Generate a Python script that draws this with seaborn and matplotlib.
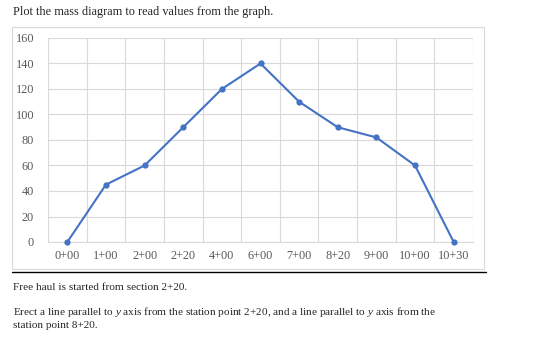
import numpy as np
import pandas as pd
import matplotlib
matplotlib.use("Agg")
import matplotlib.pyplot as plt
import seaborn as sns
from matplotlib.patches import Rectangle
from matplotlib.lines import Line2D


# Mass diagram data (station vs. ordinate)
stations = ['0+00', '1+00', '2+00', '2+20', '4+00', '6+00', '7+00', '8+20', '9+00', '10+00', '10+30']
ordinates = [0, 45, 60, 90, 120, 140, 110, 90, 82, 60, 0]
y_ticks = [0, 20, 40, 60, 80, 100, 120, 140, 160]

df = pd.DataFrame({'station': stations, 'ordinate': ordinates})

sns.set_style("white")
plt.rcParams['font.family'] = ['Liberation Serif', 'DejaVu Serif']
plt.rcParams['mathtext.fontset'] = 'custom'
plt.rcParams['mathtext.rm'] = 'Liberation Serif'
plt.rcParams['mathtext.it'] = 'Liberation Serif:italic'

W, H = 560, 339
fig = plt.figure(figsize=(W / 100, H / 100), dpi=100)

# axes placement in pixels
left, right, top, bottom = 48, 473, 38, 242
ax = fig.add_axes([left / W, 1 - bottom / H, (right - left) / W, (bottom - top) / H])

sns.lineplot(data=df, x='station', y='ordinate', ax=ax, color='#4472C4',
             linewidth=1.5, marker='o', markersize=4.5, markeredgewidth=0, sort=False)
for ln in ax.lines:
    ln.set_clip_on(False)
    ln.set_zorder(5)

ax.set_xlim(-0.5, len(stations) - 0.5)
ax.set_ylim(0, 160)
ax.set_yticks(y_ticks)
ax.set_xticks(range(len(stations)))
ax.set_xticklabels(stations)
ax.set_xticks(np.arange(-0.5, len(stations), 1), minor=True)
ax.grid(True, which='minor', axis='x', color='#d9d9d9', linewidth=0.8)
ax.grid(True, which='major', axis='y', color='#d9d9d9', linewidth=0.8)
ax.set_axisbelow(True)
ax.tick_params(axis='both', which='both', length=0, labelsize=8.8, labelcolor='#595959')
ax.tick_params(axis='x', pad=6)
ax.tick_params(axis='y', pad=10)
ax.set_xlabel('')
ax.set_ylabel('')
for s in ax.spines.values():
    s.set_visible(False)
ax.spines['bottom'].set_visible(True)
ax.spines['bottom'].set_color('#d9d9d9')
ax.spines['bottom'].set_linewidth(0.8)

# outer chart box
fig.patches.append(Rectangle((12 / W, 1 - 269 / H), (484 - 12) / W, (269 - 27) / H,
                             transform=fig.transFigure, fill=False,
                             edgecolor='#d9d9d9', linewidth=0.8))
# rule under the chart
fig.lines.append(Line2D([12 / W, 486 / W], [1 - 272 / H, 1 - 272 / H],
                        transform=fig.transFigure, color='black', linewidth=1))

fig.text(13 / W, 1 - 12 / H, 'Plot the mass diagram to read values from the graph.',
         fontsize=8.8, va='center', ha='left')
fig.text(13 / W, 1 - 288 / H, 'Free haul is started from section 2+20.',
         fontsize=8.1, va='center', ha='left')
fig.text(13 / W, 1 - 312 / H,
         'Erect a line parallel to $\\it{y}$ axis from the station point 2+20, and a line parallel to $\\it{y}$ axis from the',
         fontsize=8.1, va='center', ha='left')
fig.text(13 / W, 1 - 326 / H, 'station point 8+20.',
         fontsize=8.1, va='center', ha='left')

fig.savefig('out.png', dpi=100)
